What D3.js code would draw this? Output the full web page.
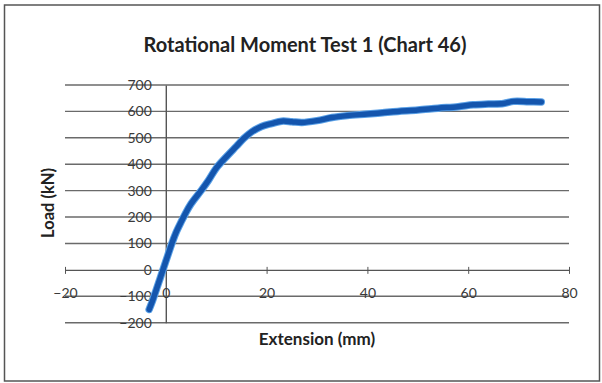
<!DOCTYPE html>
<html><head><meta charset="utf-8">
<script src="https://cdn.jsdelivr.net/npm/d3@7"></script>
<style>body{margin:0;background:#fff}svg{display:block}</style>
</head><body>
<script>
const extension = [-3.3,-2.6,-1.8,-1.0,-0.3,0.4,1.2,2.0,3.0,3.8,5.0,7.0,8.5,10.0,12.0,14.0,15.5,17.0,19.0,21.0,23.0,25.0,27.0,30.0,33.0,36.0,40.0,43.0,46.0,50.0,54.0,58.0,61.0,64.0,67.0,69.0,72.0,74.5];
const load =      [-150,-115,-70,-25,15,55,100,140,180,210,250,300,340,385,428,468,498,522,543,554,563,561,558,565,577,584,590,595,600,605,612,618,625,628,630,638,637,636];
const xTicks = [-20,0,20,40,60,80];
const yTicks = [-200,-100,0,100,200,300,400,500,600,700];
const title = "Rotational Moment Test 1 (Chart 46)";
const xTitle = "Extension (mm)";
const yTitle = "Load (kN)";

const W=602,H=383;
const svg=d3.select("body").append("svg").attr("width",W).attr("height",H);
const font="Lato, 'Open Sans', sans-serif";
// frame
svg.append("rect").attr("x",4.5).attr("y",5).attr("width",595).attr("height",376)
  .attr("fill","none").attr("stroke","#555").attr("stroke-width",1.5);

const x=d3.scaleLinear().domain([-20,80]).range([65,569]);
const y=d3.scaleLinear().domain([-200,700]).range([322.7,85]);

// gridlines
svg.append("g").selectAll("line").data(yTicks.filter(d=>d!==0)).join("line")
  .attr("x1",x(-20)).attr("x2",x(80)).attr("y1",d=>y(d)).attr("y2",d=>y(d))
  .attr("stroke","#6a6a6a").attr("stroke-width",1.4);

// y axis
const yAxis=svg.append("g").attr("transform",`translate(${x(0)},0)`)
  .call(d3.axisLeft(y).tickValues(yTicks).tickSize(0).tickPadding(14));
yAxis.select(".domain").attr("stroke","#555").attr("stroke-width",1.4);
yAxis.selectAll("text").attr("font-family",font).attr("font-size",14).attr("fill","#3a3a3a");

// x axis
const xAxis=svg.append("g").attr("transform",`translate(0,${y(0)})`)
  .call(d3.axisBottom(x).tickValues(xTicks).tickSizeInner(4).tickSizeOuter(0).tickPadding(14));
xAxis.select(".domain").attr("stroke","#555").attr("stroke-width",1.4);
xAxis.selectAll(".tick line").attr("stroke","#555").attr("y1",-3).attr("y2",4);
xAxis.selectAll("text").attr("font-family",font).attr("font-size",14).attr("fill","#3a3a3a");

// series
const line=d3.line().x((d,i)=>x(extension[i])).y((d,i)=>y(load[i])).curve(d3.curveCatmullRom);
svg.append("path").datum(load).attr("d",line).attr("fill","none")
  .attr("stroke","#5aa0e6").attr("stroke-width",7.5).attr("stroke-linecap","round").attr("stroke-linejoin","round");
svg.append("path").datum(load).attr("d",line).attr("fill","none")
  .attr("stroke","#1455ad").attr("stroke-width",5.5).attr("stroke-linecap","round").attr("stroke-linejoin","round");

// titles
svg.append("text").attr("x",305).attr("y",52).attr("text-anchor","middle")
  .attr("font-family",font).attr("font-weight","bold").attr("font-size",20).attr("fill","#222").text(title);
svg.append("text").attr("x",317).attr("y",345).attr("text-anchor","middle")
  .attr("font-family",font).attr("font-weight","bold").attr("font-size",17).attr("fill","#222").text(xTitle);
svg.append("text").attr("transform","translate(54,203) rotate(-90)").attr("text-anchor","middle")
  .attr("font-family",font).attr("font-weight","bold").attr("font-size",16.5).attr("fill","#222").text(yTitle);
</script>
</body></html>
